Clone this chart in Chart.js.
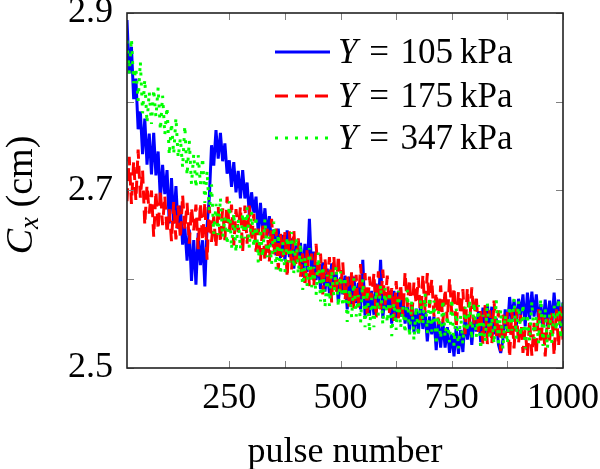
<!DOCTYPE html>
<html>
<head>
<meta charset="utf-8">
<script src="https://cdn.jsdelivr.net/npm/chart.js@4.4.0/dist/chart.umd.min.js"></script>
<style>
html, body { margin: 0; padding: 0; background: #fff; }
#wrap { width: 600px; height: 469px; }
</style>
</head>
<body>
<div id="wrap"><canvas id="chart" width="600" height="469"></canvas></div>
<script>
// pulse number (x) shared by the three runs
const pulses = [
	20, 25, 30, 35, 40, 45, 50, 55, 60, 65, 70, 75, 80, 85, 90, 95, 100, 105, 110, 115,
	120, 125, 130, 135, 140, 145, 150, 155, 160, 165, 170, 175, 180, 185, 190, 195, 200, 205, 210, 215,
	220, 225, 230, 235, 240, 245, 250, 255, 260, 265, 270, 275, 280, 285, 290, 295, 300, 305, 310, 315,
	320, 325, 330, 335, 340, 345, 350, 355, 360, 365, 370, 375, 380, 385, 390, 395, 400, 405, 410, 415,
	420, 425, 430, 435, 440, 445, 450, 455, 460, 465, 470, 475, 480, 485, 490, 495, 500, 505, 510, 515,
	520, 525, 530, 535, 540, 545, 550, 555, 560, 565, 570, 575, 580, 585, 590, 595, 600, 605, 610, 615,
	620, 625, 630, 635, 640, 645, 650, 655, 660, 665, 670, 675, 680, 685, 690, 695, 700, 705, 710, 715,
	720, 725, 730, 735, 740, 745, 750, 755, 760, 765, 770, 775, 780, 785, 790, 795, 800, 805, 810, 815,
	820, 825, 830, 835, 840, 845, 850, 855, 860, 865, 870, 875, 880, 885, 890, 895, 900, 905, 910, 915,
	920, 925, 930, 935, 940, 945, 950, 955, 960, 965, 970, 975, 980, 985, 990, 995, 1000]

// C_x (cm), Y = 105 kPa
const cx105 = [
	2.892, 2.832, 2.862, 2.803, 2.826, 2.769, 2.789, 2.741, 2.781, 2.729, 2.764, 2.718, 2.765, 2.717, 2.744, 2.690, 2.729, 2.696, 2.723, 2.663,
	2.714, 2.663, 2.705, 2.657, 2.683, 2.639, 2.659, 2.621, 2.656, 2.598, 2.644, 2.594, 2.652, 2.616, 2.644, 2.592, 2.660, 2.692, 2.751, 2.728,
	2.768, 2.736, 2.765, 2.733, 2.753, 2.719, 2.734, 2.704, 2.732, 2.698, 2.722, 2.691, 2.723, 2.691, 2.709, 2.672, 2.698, 2.675, 2.693, 2.652,
	2.686, 2.652, 2.680, 2.649, 2.671, 2.638, 2.656, 2.627, 2.657, 2.624, 2.650, 2.621, 2.655, 2.625, 2.646, 2.612, 2.640, 2.620, 2.641, 2.603,
	2.640, 2.608, 2.668, 2.609, 2.631, 2.599, 2.618, 2.589, 2.619, 2.586, 2.612, 2.584, 2.618, 2.588, 2.608, 2.574, 2.602, 2.583, 2.604, 2.566,
	2.603, 2.572, 2.603, 2.573, 2.596, 2.566, 2.622, 2.559, 2.590, 2.559, 2.587, 2.560, 2.595, 2.567, 2.622, 2.556, 2.585, 2.566, 2.587, 2.550,
	2.587, 2.556, 2.587, 2.558, 2.581, 2.550, 2.569, 2.542, 2.572, 2.540, 2.567, 2.539, 2.574, 2.544, 2.564, 2.530, 2.558, 2.538, 2.558, 2.520,
	2.555, 2.523, 2.552, 2.523, 2.546, 2.517, 2.538, 2.513, 2.547, 2.516, 2.543, 2.518, 2.558, 2.532, 2.556, 2.526, 2.558, 2.541, 2.564, 2.529,
	2.568, 2.539, 2.572, 2.544, 2.569, 2.538, 2.556, 2.526, 2.517, 2.532, 2.566, 2.542, 2.580, 2.554, 2.577, 2.547, 2.578, 2.560, 2.583, 2.547,
	2.585, 2.555, 2.586, 2.558, 2.583, 2.552, 2.572, 2.546, 2.577, 2.547, 2.576, 2.549, 2.585, 2.556, 2.577, 2.545, 2.574]

// C_x (cm), Y = 175 kPa
const cx175 = [
	2.688, 2.738, 2.685, 2.733, 2.689, 2.746, 2.692, 2.723, 2.661, 2.706, 2.674, 2.700, 2.648, 2.699, 2.656, 2.700, 2.661, 2.694, 2.652, 2.679,
	2.643, 2.687, 2.645, 2.683, 2.646, 2.695, 2.656, 2.686, 2.640, 2.681, 2.655, 2.684, 2.634, 2.686, 2.643, 2.687, 2.622, 2.682, 2.642, 2.671,
	2.636, 2.682, 2.641, 2.680, 2.644, 2.693, 2.654, 2.684, 2.638, 2.679, 2.653, 2.682, 2.631, 2.683, 2.640, 2.683, 2.643, 2.674, 2.631, 2.657,
	2.620, 2.663, 2.620, 2.657, 2.620, 2.668, 2.628, 2.657, 2.611, 2.651, 2.625, 2.653, 2.602, 2.654, 2.611, 2.655, 2.615, 2.646, 2.603, 2.629,
	2.592, 2.635, 2.592, 2.629, 2.592, 2.640, 2.600, 2.629, 2.583, 2.623, 2.597, 2.625, 2.574, 2.626, 2.583, 2.627, 2.587, 2.619, 2.576, 2.603,
	2.566, 2.610, 2.567, 2.605, 2.568, 2.617, 2.577, 2.607, 2.561, 2.603, 2.577, 2.607, 2.556, 2.609, 2.566, 2.611, 2.571, 2.604, 2.562, 2.590,
	2.553, 2.598, 2.556, 2.595, 2.558, 2.608, 2.569, 2.600, 2.555, 2.597, 2.572, 2.602, 2.552, 2.605, 2.563, 2.607, 2.568, 2.600, 2.558, 2.585,
	2.549, 2.593, 2.551, 2.589, 2.552, 2.601, 2.561, 2.591, 2.545, 2.586, 2.560, 2.589, 2.538, 2.590, 2.547, 2.591, 2.550, 2.582, 2.538, 2.565,
	2.527, 2.571, 2.527, 2.565, 2.527, 2.576, 2.535, 2.565, 2.519, 2.560, 2.534, 2.563, 2.512, 2.565, 2.522, 2.567, 2.527, 2.560, 2.517, 2.545,
	2.513, 2.554, 2.514, 2.551, 2.515, 2.566, 2.527, 2.558, 2.513, 2.556, 2.531, 2.562, 2.514, 2.566, 2.524, 2.570, 2.531]

// C_x (cm), Y = 347 kPa
const cx347 = [
	2.869, 2.832, 2.871, 2.821, 2.838, 2.801, 2.845, 2.787, 2.825, 2.776, 2.811, 2.775, 2.814, 2.783, 2.816, 2.768, 2.807, 2.763, 2.794, 2.740,
	2.776, 2.741, 2.782, 2.737, 2.759, 2.726, 2.773, 2.717, 2.756, 2.707, 2.741, 2.703, 2.740, 2.707, 2.737, 2.686, 2.722, 2.677, 2.707, 2.651,
	2.685, 2.650, 2.692, 2.647, 2.670, 2.639, 2.688, 2.634, 2.675, 2.630, 2.668, 2.634, 2.675, 2.646, 2.681, 2.635, 2.676, 2.636, 2.671, 2.619,
	2.657, 2.625, 2.668, 2.625, 2.648, 2.617, 2.665, 2.611, 2.651, 2.605, 2.642, 2.608, 2.648, 2.619, 2.653, 2.607, 2.647, 2.606, 2.640, 2.588,
	2.625, 2.592, 2.635, 2.591, 2.614, 2.582, 2.630, 2.575, 2.615, 2.568, 2.605, 2.570, 2.610, 2.581, 2.615, 2.569, 2.609, 2.569, 2.603, 2.552,
	2.589, 2.557, 2.601, 2.558, 2.582, 2.551, 2.600, 2.546, 2.587, 2.541, 2.579, 2.546, 2.587, 2.559, 2.594, 2.549, 2.590, 2.551, 2.586, 2.536,
	2.574, 2.543, 2.587, 2.545, 2.569, 2.539, 2.588, 2.535, 2.576, 2.531, 2.569, 2.536, 2.577, 2.549, 2.584, 2.539, 2.580, 2.541, 2.576, 2.526,
	2.564, 2.533, 2.577, 2.535, 2.559, 2.529, 2.578, 2.525, 2.567, 2.522, 2.560, 2.527, 2.569, 2.541, 2.577, 2.532, 2.574, 2.535, 2.571, 2.521,
	2.560, 2.529, 2.574, 2.532, 2.557, 2.527, 2.577, 2.524, 2.566, 2.521, 2.560, 2.527, 2.570, 2.542, 2.578, 2.533, 2.575, 2.536, 2.572, 2.522,
	2.561, 2.530, 2.575, 2.533, 2.558, 2.528, 2.578, 2.525, 2.567, 2.522, 2.561, 2.528, 2.570, 2.542, 2.578, 2.533, 2.575]

const seriesNames = ['105', '175', '347']
const xTicks = [250, 375, 500, 625, 750, 875, 1000]
const xLabels = [250, 500, 750, 1000]
const yTicks = [2.5, 2.6, 2.7, 2.8, 2.9]
const yLabels = ['2.5', '2.7', '2.9']

const SERIF = '"Liberation Serif", "Times New Roman", serif'

function points(ys) {
	return pulses.map((x, i) => ({ x: x, y: ys[i] }))
}

// frame and inward tick marks, drawn over the data like pgfplots does
const frame = {
	id: 'frame',
	afterDatasetsDraw(chart) {
		const { ctx, chartArea: a, scales } = chart
		ctx.save()
		ctx.strokeStyle = '#808080'
		ctx.lineWidth = 1
		ctx.beginPath()
		for (const t of scales.x.ticks) {
			const px = Math.round(scales.x.getPixelForValue(t.value)) + 0.5
			ctx.moveTo(px, a.bottom); ctx.lineTo(px, a.bottom - 7)
			ctx.moveTo(px, a.top); ctx.lineTo(px, a.top + 7)
		}
		for (const t of scales.y.ticks) {
			const py = Math.round(scales.y.getPixelForValue(t.value)) + 0.5
			ctx.moveTo(a.left, py); ctx.lineTo(a.left + 7, py)
			ctx.moveTo(a.right, py); ctx.lineTo(a.right - 7, py)
		}
		ctx.stroke()
		ctx.strokeStyle = '#222'
		ctx.lineWidth = 1.6
		ctx.strokeRect(a.left, a.top, a.right - a.left, a.bottom - a.top)
		ctx.restore()
	},
	afterDraw(chart) {
		const { ctx, chartArea: a } = chart
		ctx.save()
		ctx.fillStyle = '#000'
		ctx.textBaseline = 'alphabetic'

		// x title
		ctx.font = `36px ${SERIF}`
		ctx.textAlign = 'center'
		ctx.fillText('pulse number', (a.left + a.right) / 2, 462)

		// y title: C_x (cm)
		ctx.textAlign = 'left'
		ctx.save()
		ctx.translate(32, 195)
		ctx.rotate(-Math.PI / 2)
		const big = `italic 38px ${SERIF}`
		const sub = `italic 27px ${SERIF}`
		const rom = `38px ${SERIF}`
		ctx.font = big
		const wC = ctx.measureText('C').width
		ctx.font = sub
		const wx = ctx.measureText('x').width
		ctx.font = rom
		const wr = ctx.measureText(' (cm)').width
		let x = -(wC + wx + wr) / 2
		ctx.font = big; ctx.fillText('C', x, 0); x += wC
		ctx.font = sub; ctx.fillText('x', x, 6); x += wx
		ctx.font = rom; ctx.fillText(' (cm)', x, 0)
		ctx.restore()

		// legend
		const rows = [52, 96, 138]
		chart.data.datasets.forEach((ds, i) => {
			const y = rows[i]
			ctx.save()
			ctx.strokeStyle = ds.borderColor
			ctx.lineWidth = ds.borderWidth
			ctx.setLineDash(ds.borderDash || [])
			ctx.beginPath()
			ctx.moveTo(275, y)
			ctx.lineTo(330, y)
			ctx.stroke()
			ctx.restore()
			let tx = 338
			ctx.font = `italic 35px ${SERIF}`
			ctx.fillText('Y', tx, y + 11)
			tx += ctx.measureText('Y').width
			ctx.font = `35px ${SERIF}`
			ctx.fillText('\u2004=\u2004' + seriesNames[i] + '\u2009kPa', tx, y + 11)
		})
		ctx.restore()
	}
}

const tickFont = { family: SERIF, size: 36 }

const chart = new Chart(document.getElementById('chart'), {
	type: 'line',
	data: {
		datasets: [{
			label: 'Y = 105 kPa',
			data: points(cx105),
			borderColor: '#0000ff',
			borderWidth: 3,
			borderJoinStyle: 'bevel',
			pointRadius: 0,
			fill: false,
			order: 3,
		}, {
			label: 'Y = 175 kPa',
			data: points(cx175),
			borderColor: '#ff0000',
			borderWidth: 3,
			borderDash: [13, 7],
			borderJoinStyle: 'bevel',
			pointRadius: 0,
			fill: false,
			order: 2,
		}, {
			label: 'Y = 347 kPa',
			data: points(cx347),
			borderColor: '#00ff00',
			borderWidth: 3,
			borderDash: [3, 7],
			borderJoinStyle: 'bevel',
			pointRadius: 0,
			fill: false,
			order: 1,
		}],
	},
	options: {
		responsive: false,
		animation: false,
		devicePixelRatio: 1,
		layout: {
			padding: { top: 13, right: 37, left: 0, bottom: 0 },
		},
		plugins: {
			legend: { display: false },
			tooltip: { enabled: false },
		},
		scales: {
			x: {
				type: 'linear',
				min: 20,
				max: 1000,
				afterBuildTicks: s => { s.ticks = xTicks.map(v => ({ value: v })) },
				afterFit: s => { s.height = 101; s.paddingLeft = 0; s.paddingRight = 0 },
				grid: { display: false, drawTicks: false },
				border: { display: false },
				ticks: {
					font: tickFont,
					color: '#000',
					padding: 9,
					autoSkip: false,
					maxRotation: 0,
					minRotation: 0,
					callback: v => xLabels.includes(v) ? String(v) : '',
				},
			},
			y: {
				type: 'linear',
				min: 2.5,
				max: 2.9,
				afterBuildTicks: s => { s.ticks = yTicks.map(v => ({ value: v })) },
				afterFit: s => { s.width = 127; s.paddingTop = 0; s.paddingBottom = 0 },
				grid: { display: false, drawTicks: false },
				border: { display: false },
				ticks: {
					font: tickFont,
					color: '#000',
					padding: 14,
					autoSkip: false,
					callback: v => yLabels.includes(v.toFixed(1)) ? v.toFixed(1) : '',
				},
			},
		},
	},
	plugins: [frame],
})
</script>
</body>
</html>
